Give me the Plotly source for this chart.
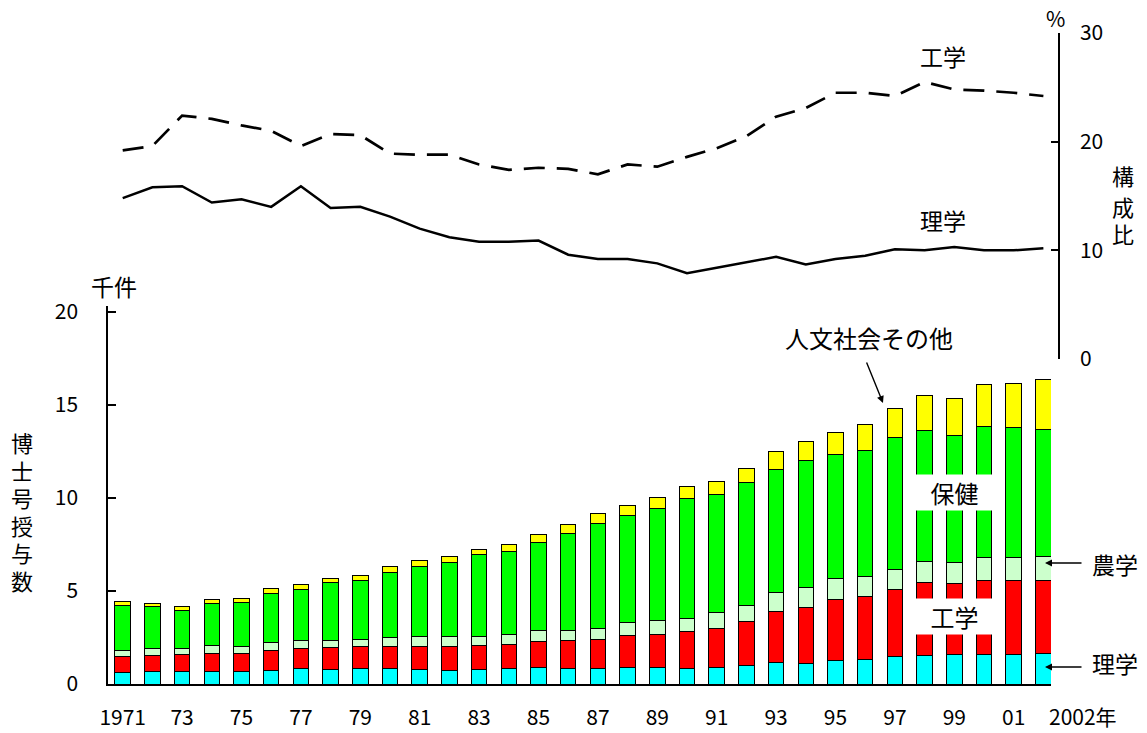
import plotly.graph_objects as go

# ---------------- data ----------------
years = list(range(1971, 2003))
tick_years = years[0:31:2]
tick_text = ["1971", "73", "75", "77", "79", "81", "83", "85", "87", "89", "91", "93", "95", "97", "99", "01"]

# thousands of doctorates awarded, by field (stacked from bottom)
sci = [0.63, 0.68, 0.65, 0.65, 0.68, 0.73, 0.84, 0.79, 0.82, 0.82, 0.79, 0.75, 0.77, 0.81, 0.86, 0.81,
       0.82, 0.88, 0.88, 0.84, 0.90, 0.99, 1.15, 1.11, 1.24, 1.33, 1.47, 1.52, 1.58, 1.58, 1.59, 1.63]
eng = [0.86, 0.86, 0.94, 1.00, 0.97, 1.06, 1.04, 1.16, 1.19, 1.19, 1.25, 1.29, 1.31, 1.30, 1.40, 1.52,
       1.56, 1.74, 1.79, 1.96, 2.07, 2.38, 2.77, 3.01, 3.29, 3.38, 3.60, 3.95, 3.81, 3.96, 3.95, 3.94]
agr = [0.32, 0.36, 0.33, 0.43, 0.36, 0.43, 0.45, 0.38, 0.37, 0.48, 0.49, 0.49, 0.46, 0.54, 0.63, 0.56,
       0.59, 0.66, 0.72, 0.73, 0.88, 0.82, 0.97, 1.04, 1.12, 1.06, 1.09, 1.09, 1.13, 1.25, 1.25, 1.26]
health = [2.38, 2.24, 2.04, 2.24, 2.36, 2.64, 2.74, 3.10, 3.19, 3.51, 3.80, 3.98, 4.40, 4.48, 4.73, 5.21,
          5.65, 5.75, 6.05, 6.42, 6.35, 6.63, 6.65, 6.83, 6.70, 6.79, 7.10, 7.08, 6.83, 7.05, 6.97, 6.84]
hum = [0.22, 0.21, 0.20, 0.21, 0.24, 0.28, 0.25, 0.22, 0.24, 0.29, 0.28, 0.32, 0.30, 0.36, 0.39, 0.45,
       0.54, 0.56, 0.60, 0.68, 0.66, 0.74, 0.93, 1.06, 1.16, 1.35, 1.54, 1.83, 1.99, 2.22, 2.40, 2.66]

# composition ratio (%)
eng_pct = [19.2, 19.6, 22.4, 22.1, 21.5, 21.0, 19.6, 20.7, 20.6, 18.9, 18.8, 18.8, 17.9, 17.4, 17.6, 17.5,
           17.0, 17.9, 17.7, 18.6, 19.4, 20.5, 22.3, 23.1, 24.5, 24.5, 24.2, 25.5, 24.8, 24.7, 24.5, 24.2]
sci_pct = [14.8, 15.8, 15.9, 14.4, 14.7, 14.0, 15.9, 13.9, 14.0, 13.1, 12.0, 11.2, 10.8, 10.8, 10.9, 9.6,
           9.2, 9.2, 8.8, 7.9, 8.4, 8.9, 9.4, 8.7, 9.2, 9.5, 10.1, 10.0, 10.3, 10.0, 10.0, 10.2]

# ---------------- layout helpers ----------------
W, H = 1147, 733
ML, MR, MT, MB = 108, 89, 33, 49
PW, PH = W - ML - MR, H - MT - MB
FONT = "Noto Sans CJK JP"


def px(x):
    return (x - ML) / PW


def py(y):
    return (H - MB - y) / PH


fig = go.Figure()

series = [
    ("理学", sci, "#00FFFF"),
    ("工学", eng, "#FF0000"),
    ("農学", agr, "#CCFFCC"),
    ("保健", health, "#00FF00"),
    ("人文社会その他", hum, "#FFFF00"),
]
for name, vals, col in series:
    fig.add_trace(go.Bar(
        x=years, y=vals, name=name, width=0.52,
        marker=dict(color=col, line=dict(color="#000000", width=1)),
        xaxis="x", yaxis="y",
    ))

fig.add_trace(go.Scatter(
    x=years, y=eng_pct, mode="lines", name="工学(%)",
    line=dict(color="#000000", width=2.7, dash="21px,12px"),
    xaxis="x2", yaxis="y2",
))
fig.add_trace(go.Scatter(
    x=years, y=sci_pct, mode="lines", name="理学(%)",
    line=dict(color="#000000", width=2.5),
    xaxis="x2", yaxis="y2",
))

tickfont = dict(family=FONT, size=21, color="#000000")

fig.update_layout(
    width=W, height=H,
    margin=dict(l=ML, r=MR, t=MT, b=MB, pad=0),
    paper_bgcolor="#FFFFFF", plot_bgcolor="rgba(0,0,0,0)",
    barmode="stack", showlegend=False,
    font=dict(family=FONT, color="#000000"),
    xaxis=dict(
        domain=[0, px(1051)], range=[1970.505, 2002.256], anchor="y",
        tickmode="array", tickvals=tick_years, ticktext=tick_text,
        ticks="", showline=True, linecolor="#000000", linewidth=1.5,
        showgrid=False, zeroline=False, tickfont=tickfont,
        ticklabelstandoff=14, automargin=False,
    ),
    yaxis=dict(
        domain=[0, py(306)], range=[0, 20.3], anchor="x",
        tickmode="array", tickvals=[0, 5, 10, 15, 20],
        ticks="inside", ticklen=8, tickwidth=1.5, tickcolor="#000000",
        showline=True, linecolor="#000000", linewidth=1.5,
        showgrid=False, zeroline=False, tickfont=tickfont,
        ticklabelstandoff=24, automargin=False,
    ),
    xaxis2=dict(
        domain=[0, 1], range=[1970.505, 2002.492], anchor="y2",
        visible=False, showgrid=False, zeroline=False,
    ),
    yaxis2=dict(
        domain=[py(359), 1], range=[0, 30], anchor="x2", side="right",
        tickmode="array", tickvals=[0, 10, 20, 30],
        ticks="inside", ticklen=7, tickwidth=1.5, tickcolor="#000000",
        showline=True, linecolor="#000000", linewidth=1.5,
        showgrid=False, zeroline=False, tickfont=tickfont,
        ticklabelstandoff=16, automargin=False,
    ),
)

ann = []


def label(text, x, y, size=23, **kw):
    d = dict(text=text, x=px(x), y=py(y), xref="paper", yref="paper",
             showarrow=False, xanchor="center", yanchor="middle",
             font=dict(family=FONT, size=size, color="#000000"))
    d.update(kw)
    ann.append(d)


def arrow(x_head, y_head, x_tail, y_tail, width=1.4, head=2):
    ann.append(dict(text="", x=px(x_head), y=py(y_head), xref="paper", yref="paper",
                    showarrow=True, ax=x_tail - x_head, ay=y_tail - y_head,
                    axref="pixel", ayref="pixel", arrowhead=head, arrowsize=1,
                    arrowwidth=width, arrowcolor="#000000", standoff=0, startstandoff=0))


label("千件", 114, 286, size=23)
for k, ch in enumerate("博士号授与数"):
    label(ch, 22, 442 + 27.5 * k, size=22, height=26, width=26, borderpad=0)
label("%", 1055, 18, size=21)
for ch, yy in zip("構成比", [175, 206, 233]):
    label(ch, 1123, yy, size=22, height=26, width=26, borderpad=0)
label("工学", 943, 56, size=23)
label("理学", 943, 220, size=23)
label("人文社会その他", 869, 337, size=24)
arrow(883, 403, 866, 361)
label("保健", 954.5, 492.5, size=24, bgcolor="#FFFFFF", width=77, height=35, borderpad=0)
label("工学", 954.5, 616.5, size=24, bgcolor="#FFFFFF", width=77, height=35, borderpad=0)
label("農学", 1115, 564, size=23)
arrow(1045, 563, 1083, 563, width=1.4)
label("理学", 1115, 663, size=23)
arrow(1045, 667, 1083, 667, width=1.4)
label("2002年", 1083, 716, size=21)

fig.update_layout(annotations=ann)

fig.write_html(
    "out.html",
    config={"displayModeBar": False},
    post_script="document.body.style.margin='0';document.body.style.padding='0';",
)
